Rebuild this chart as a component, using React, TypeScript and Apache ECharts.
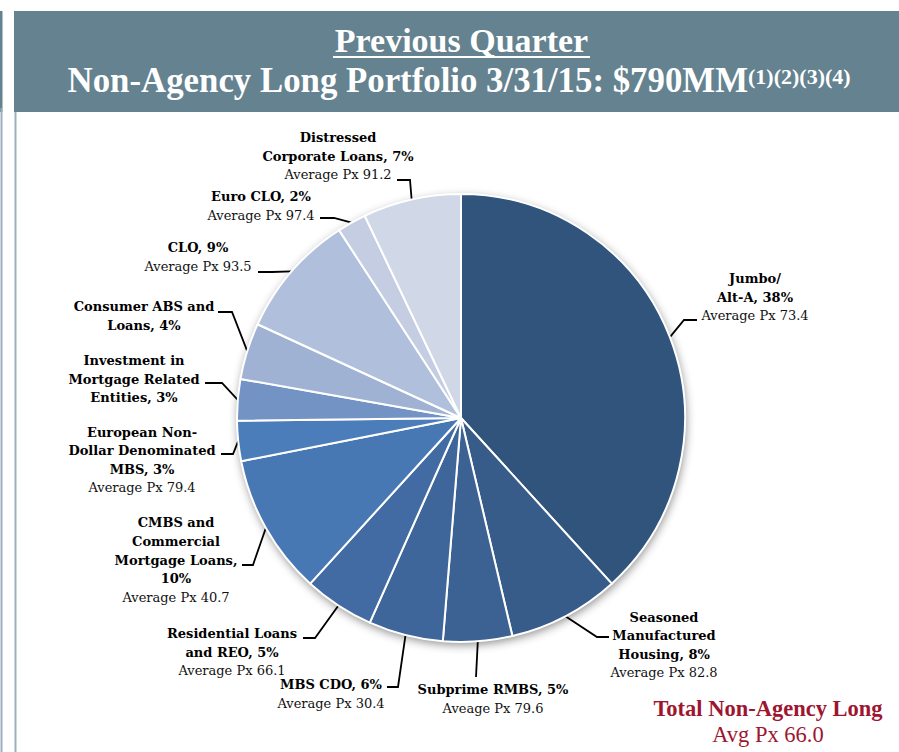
import React, { useEffect, useRef } from 'react';
import * as echarts from 'echarts';

// ---- data ----
const categories = [
  'Jumbo/\nAlt-A',
  'Seasoned\nManufactured\nHousing',
  'Subprime RMBS',
  'MBS CDO',
  'Residential Loans\nand REO',
  'CMBS and\nCommercial\nMortgage Loans,\n',
  'European Non-\nDollar Denominated\nMBS',
  'Investment in\nMortgage Related\nEntities',
  'Consumer ABS and\nLoans',
  'CLO',
  'Euro CLO',
  'Distressed\nCorporate Loans',
];
const sharePct = [38, 8, 5, 6, 5, 10, 3, 3, 4, 9, 2, 7];
const sliceWeights = [38.4, 8.1, 5.0, 5.4, 5.1, 10.2, 2.9, 3.0, 4.1, 9.0, 2.1, 7.1];
const avgPx: (string | null)[] = ['73.4', '82.8', '79.6', '30.4', '66.1', '40.7', '79.4', null, null, '93.5', '97.4', '91.2'];
const pxWords = ['Average Px', 'Average Px', 'Aveage Px', 'Average Px', 'Average Px', 'Average Px', 'Average Px', '', '', 'Average Px', 'Average Px', 'Average Px'];
const titleLine1 = 'Previous Quarter';
const titleLine2 = 'Non-Agency Long Portfolio 3/31/15: $790MM';
const titleNotes = '(1)(2)(3)(4)';
const totalTitle = 'Total Non-Agency Long';
const totalAvg = 'Avg Px 66.0';

// ---- styles / layout ----
const sliceColors = [
  '#30547c', '#375c89', '#3b6293', '#3e669b', '#416ba2', '#4878b4',
  '#4b7dba', '#7393c5', '#a0b2d4', '#b0c0dc', '#c4cde2', '#d0d7e7',
];
const CX = 461;
const CY = 418;
const R = 224;
// label block centre, leader end point, hook direction/length
const LABEL_LAYOUT = [
  { x: 755, y: 297, ex: 697, ey: 320, hook: -13 },
  { x: 664, y: 645, ex: 609, ey: 637, hook: -12 },
  { x: 493, y: 699, ex: 476, ey: 677, hook: 0 },
  { x: 331, y: 694, ex: 387, ey: 687, hook: 11 },
  { x: 232, y: 652, ex: 303, ey: 638, hook: 12 },
  { x: 176, y: 560, ex: 242, ey: 565, hook: 11 },
  { x: 142, y: 460, ex: 221, ey: 454, hook: 12 },
  { x: 134, y: 379, ex: 205, ey: 383, hook: 17 },
  { x: 144, y: 316, ex: 218, ey: 312, hook: 14 },
  { x: 198, y: 257, ex: 258, ey: 272, hook: 14 },
  { x: 261, y: 206, ex: 320, ey: 218, hook: 14 },
  { x: 338, y: 156, ex: 397, ey: 180, hook: 13 },
];

function edgePoint(i: number): number[] {
  const total = sliceWeights.reduce((a, b) => a + b, 0);
  let before = 0;
  for (let k = 0; k < i; k++) before += sliceWeights[k];
  const mid = (before + sliceWeights[i] / 2) / total;
  const th = mid * Math.PI * 2;
  return [CX + R * Math.sin(th), CY - R * Math.cos(th)];
}

function labelText(i: number): string {
  const name = categories[i];
  const bold = name.endsWith('\n') ? name + sharePct[i] + '%' : name + ', ' + sharePct[i] + '%';
  let s = '{b|' + bold + '}';
  if (avgPx[i] != null) s += '\n{r|' + pxWords[i] + ' ' + avgPx[i] + '}';
  return s;
}

export default function App() {
  const ref = useRef<HTMLDivElement>(null);
  useEffect(() => {
    if (!ref.current) return;
    const chart = echarts.init(ref.current, null, { renderer: 'svg' });
    const labelFont = '"DejaVu Serif", serif';
    const titleFont = '"Liberation Serif", "Times New Roman", serif';
    chart.setOption({
      animation: false,
      backgroundColor: '#ffffff',
      series: [
        {
          type: 'pie',
          z: 1,
          silent: true,
          center: [CX, CY],
          radius: R,
          label: { show: false },
          labelLine: { show: false },
          itemStyle: {
            color: '#ffffff',
            shadowBlur: 10,
            shadowColor: 'rgba(0,0,0,0.45)',
            shadowOffsetX: 1,
            shadowOffsetY: 3,
          },
          data: [{ value: 1, name: 'shadow' }],
        },
        {
          type: 'pie',
          z: 2,
          silent: true,
          center: [CX, CY],
          radius: R,
          startAngle: 90,
          clockwise: true,
          avoidLabelOverlap: false,
          itemStyle: { borderColor: '#ffffff', borderWidth: 2 },
          label: {
            show: true,
            position: 'outside',
            formatter: (p: any) => labelText(p.dataIndex),
            rich: {
              b: { fontFamily: labelFont, fontWeight: 'bold', fontSize: 13, lineHeight: 18.6, color: '#000', align: 'center' },
              r: { fontFamily: labelFont, fontSize: 13, lineHeight: 18.6, color: '#111', align: 'center' },
            },
          },
          labelLine: { show: true, length: 10, length2: 10, smooth: false, lineStyle: { color: '#000', width: 1.8 } },
          labelLayout: (params: any) => {
            const i = params.dataIndex;
            const L = LABEL_LAYOUT[i];
            const p0 = edgePoint(i);
            return {
              x: L.x,
              y: L.y,
              align: 'center',
              verticalAlign: 'middle',
              labelLinePoints: [p0, [L.ex + L.hook, L.ey], [L.ex, L.ey]],
            };
          },
          data: categories.map((c, i) => ({
            value: sliceWeights[i],
            name: c,
            itemStyle: { color: sliceColors[i] },
          })),
        },
      ],
      graphic: [
        { type: 'rect', silent: true, shape: { x: 14, y: 11, width: 885, height: 101 }, style: { fill: '#64828f' } },
        { type: 'rect', silent: true, shape: { x: 0, y: 11, width: 2.5, height: 101 }, style: { fill: '#64828f' } },
        { type: 'line', silent: true, shape: { x1: 1.5, y1: 108, x2: 1.5, y2: 752 }, style: { stroke: '#9cb0bc', lineWidth: 2 } },
        { type: 'line', silent: true, shape: { x1: 15.5, y1: 112, x2: 15.5, y2: 752 }, style: { stroke: '#9cb0bc', lineWidth: 2 } },
        {
          type: 'text', silent: true, x: 461.5, y: 40.5,
          style: { text: titleLine1, fill: '#ffffff', fontFamily: titleFont, fontWeight: 'bold', fontSize: 34, align: 'center', verticalAlign: 'middle' },
        },
        { type: 'line', silent: true, shape: { x1: 333, y1: 57, x2: 590, y2: 57 }, style: { stroke: '#ffffff', lineWidth: 2 } },
        {
          type: 'text', silent: true, x: 748, y: 80.5,
          style: { text: titleLine2, fill: '#ffffff', fontFamily: titleFont, fontWeight: 'bold', fontSize: 34.8, align: 'right', verticalAlign: 'middle' },
        },
        {
          type: 'text', silent: true, x: 748, y: 76,
          style: { text: titleNotes, fill: '#ffffff', fontFamily: titleFont, fontWeight: 'bold', fontSize: 22, align: 'left', verticalAlign: 'middle' },
        },
        {
          type: 'text', silent: true, x: 768, y: 708,
          style: { text: totalTitle, fill: '#9e1530', fontFamily: titleFont, fontWeight: 'bold', fontSize: 22.5, align: 'center', verticalAlign: 'middle' },
        },
        {
          type: 'text', silent: true, x: 768, y: 734,
          style: { text: totalAvg, fill: '#9e1530', fontFamily: titleFont, fontSize: 22.5, align: 'center', verticalAlign: 'middle' },
        },
      ],
    });
    return () => chart.dispose();
  }, []);
  return <div ref={ref} style={{ position: 'fixed', left: 0, top: 0, width: 899, height: 752, background: '#fff' }} />;
}
